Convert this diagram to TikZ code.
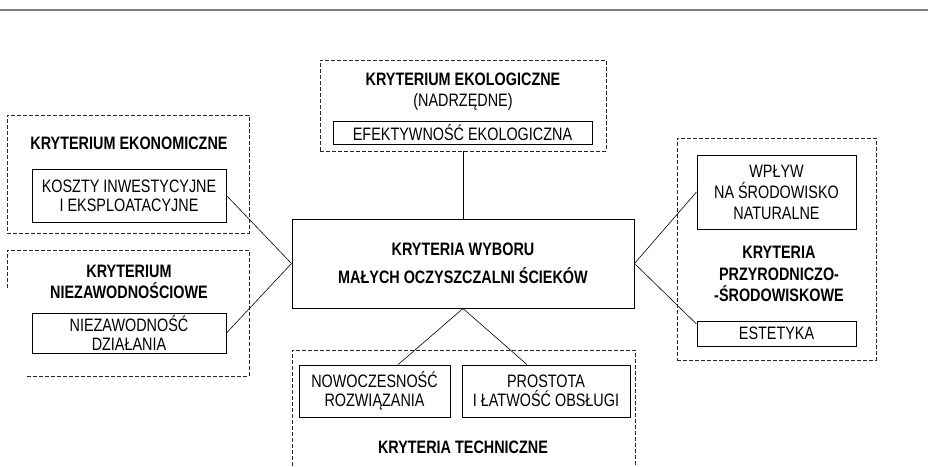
\documentclass[tikz,border=0pt]{standalone}
\usepackage{fontspec}
\setmainfont{Liberation Sans}[FakeStretch=0.80]
\usetikzlibrary{calc}
\begin{document}
\begin{tikzpicture}[x=1pt,y=-1pt,
  every node/.style={font=\fontsize{18}{19}\selectfont, inner sep=0pt, align=center},
  box/.style={draw, line width=1pt},
  frame/.style={draw=black!85, line width=0.9pt, dash pattern=on 4pt off 2pt},
  link/.style={line width=0.6pt},
  ttl/.style={font=\fontsize{18}{21}\selectfont\bfseries}]
\useasboundingbox (0,0) rectangle (928,466);
% top rule
\draw[gray, line width=2pt] (0,10) -- (928,10);

% ecological group
\node[frame, minimum width=286, minimum height=91] (ecoF) at (463,105.5) {};
\node[ttl] (ecoT) at (463,79) {KRYTERIUM EKOLOGICZNE};
\node (ecoS) at (463,102) {(NADRZĘDNE)};
\node[box, minimum width=259, minimum height=23] (eff) at (462.5,132.5) {EFEKTYWNOŚĆ EKOLOGICZNA};

% central box
\node[box, minimum width=342, minimum height=89, font=\fontsize{18}{19}\selectfont\bfseries] (main) at (463,263.5)
  {KRYTERIA WYBORU\\[9pt]MAŁYCH OCZYSZCZALNI ŚCIEKÓW};

% economic group
\node[frame, minimum width=242, minimum height=118] (ekoF) at (128,174) {};
\node[ttl] (ekoT) at (129,143) {KRYTERIUM EKONOMICZNE};
\node[box, minimum width=194, minimum height=53] (koszty) at (129,195.5)
  {KOSZTY INWESTYCYJNE\\I EKSPLOATACYJNE};

% reliability group (partial frame)
\draw[frame] (7,288) -- (7,250) -- (249,250) -- (249,376) -- (25,376);
\node[ttl] (niezT) at (129,282) {KRYTERIUM\\NIEZAWODNOŚCIOWE};
\node[box, minimum width=194, minimum height=40] (niez) at (129,333)
  {NIEZAWODNOŚĆ\\DZIAŁANIA};

% technical group (open frame)
\draw[frame] (292,466) -- (292,350) -- (635,350) -- (635,466);
\node[box, minimum width=151, minimum height=52] (nowo) at (374.5,391) {NOWOCZESNOŚĆ\\ROZWIĄZANIA};
\node[box, minimum width=168, minimum height=52] (prost) at (546,391) {PROSTOTA\\I ŁATWOŚĆ OBSŁUGI};
\node[ttl] (techT) at (463,447) {KRYTERIA TECHNICZNE};

% natural-environment group
\node[frame, minimum width=199, minimum height=222] (natF) at (776.5,249) {};
\node[box, minimum width=159, minimum height=74, font=\fontsize{18}{21}\selectfont] (wplyw) at (776.5,192) {WPŁYW\\NA ŚRODOWISKO\\NATURALNE};
\node[ttl, font=\fontsize{18}{21.7}\selectfont\bfseries] (natT) at (779,274) {KRYTERIA\\PRZYRODNICZO-\\-ŚRODOWISKOWE};
\node[box, minimum width=159, minimum height=25] (est) at (776.5,333.5) {ESTETYKA};

% connectors
\draw[link] (ecoF.south) -- (main.north);
\draw[link] (main.west) -- (koszty.east);
\draw[link] (main.west) -- (niez.east);
\draw[link] (main.east) -- (wplyw.west);
\draw[link] (main.east) -- ([yshift=-3.5pt]est.north west);
\draw[link] (main.south) -- ($(nowo.north west)!0.656!(nowo.north east)$);
\draw[link] (main.south) -- ($(prost.north west)!0.387!(prost.north east)$);
\end{tikzpicture}
\end{document}
